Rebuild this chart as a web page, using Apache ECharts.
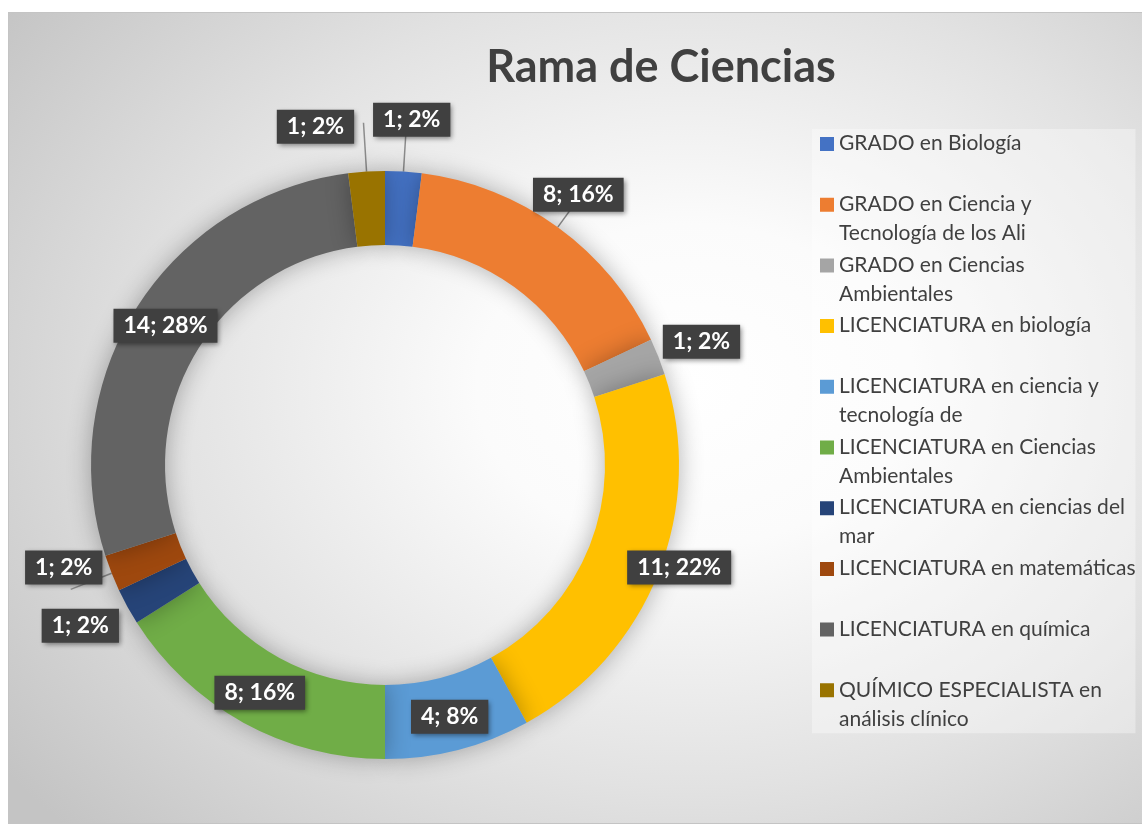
<!DOCTYPE html>
<html>
<head>
<meta charset="utf-8">
<script src="https://cdn.jsdelivr.net/npm/echarts@6/dist/echarts.min.js"></script>
<style>
    html, body { margin: 0; padding: 0; background: #ffffff; }
    #pieChart {
        position: absolute;
        left: 8px;
        top: 12px;
        width: 1134px;
        height: 810px;
        border: 1px solid #c4c4c4;
        background: radial-gradient(ellipse 75% 80% at 60% 46%, #ffffff 0%, #fbfbfb 25%, #e2e2e2 62%, #c4c4c4 100%);
    }
</style>
</head>
<body>
<div id="pieChart"></div>
<script>
// data
const categories = [
    'GRADO en Biología',
    'GRADO en Ciencia y Tecnología de los Ali',
    'GRADO en Ciencias Ambientales',
    'LICENCIATURA en biología',
    'LICENCIATURA en ciencia y tecnología de',
    'LICENCIATURA en Ciencias Ambientales',
    'LICENCIATURA en ciencias del mar',
    'LICENCIATURA en matemáticas',
    'LICENCIATURA en química',
    'QUÍMICO ESPECIALISTA en análisis clínico'
];
const values = [1, 8, 1, 11, 4, 8, 1, 1, 14, 1];
const colors = ['#4472C4', '#ED7D31', '#A5A5A5', '#FFC000', '#5B9BD5',
                '#70AD47', '#264478', '#9E480E', '#636363', '#997300'];
// legend text as wrapped in the original
const legendLines = [
    'GRADO en Biología\n',
    'GRADO en Ciencia y\nTecnología de los Ali',
    'GRADO en Ciencias\nAmbientales',
    'LICENCIATURA en biología\n',
    'LICENCIATURA en ciencia y\ntecnología de',
    'LICENCIATURA en Ciencias\nAmbientales',
    'LICENCIATURA en ciencias del\nmar',
    'LICENCIATURA en matemáticas\n',
    'LICENCIATURA en química\n',
    'QUÍMICO ESPECIALISTA en\nanálisis clínico'
];

if (typeof echarts !== 'undefined') {
    const pieDom = document.getElementById('pieChart');
    const pieChart = echarts.init(pieDom);

    // how each data label sits: inside the ring, or outside with a leader
    const labelMode = {
        0: { len: 52, line: true },
        1: { len: 40, line: true },
        2: { len: 41, line: false },
        3: { len: 17, line: false },
        6: { len: 48, line: false },
        7: { len: 44, line: true },
        9: { len: 49, line: true }
    };
    // small nudges where the original moved labels apart
    const labelNudge = {
        1: [-8, 0],
        3: [0, -12],
        6: [0, -4],
        7: [-2, -22],
        9: [-43, 4]
    };

    const pieData = categories.map((name, i) => {
        const item = { name: name, value: values[i], itemStyle: { color: colors[i] } };
        const m = labelMode[i];
        if (m) {
            item.label = { position: 'outside' };
            item.labelLine = { show: m.line, length: m.len, length2: 0 };
        } else {
            item.label = { position: 'inside' };
            item.labelLine = { show: false };
        }
        return item;
    });

    const legendIcon = 'path://M0,8h14v14h-14z M0,0h0.01v0.01h-0.01z M0,58h0.01v0.01h-0.01z';

    const pieOption = {
        textStyle: { fontFamily: 'Lato' },
        title: {
            text: 'Rama de Ciencias',
            left: 647,
            top: 27,
            textAlign: 'center',
            textStyle: { fontFamily: 'Lato', fontWeight: 'bold', fontSize: 45, color: '#404040' }
        },
        legend: {
            orient: 'vertical',
            left: 803,
            top: 116,
            padding: [0, 0, 0, 8],
            backgroundColor: 'rgba(255,255,255,0.35)',
            icon: legendIcon,
            itemWidth: 14,
            itemHeight: 58,
            itemGap: 2.7,
            selectedMode: false,
            formatter: (name) => legendLines[categories.indexOf(name)],
            textStyle: { fontFamily: 'Lato', fontSize: 21, lineHeight: 29, color: '#404040' }
        },
        series: [
            {
                name: 'Rama de Ciencias',
                type: 'pie',
                center: [376, 452],
                radius: [220, 294],
                startAngle: 90,
                clockwise: true,
                avoidLabelOverlap: false,
                itemStyle: {
                    shadowBlur: 24,
                    shadowColor: 'rgba(0,0,0,0.3)'
                },
                label: {
                    formatter: (p) => p.value + '; ' + Math.round(p.percent) + '%',
                    fontFamily: 'Lato',
                    fontWeight: 'bold',
                    fontSize: 23,
                    color: '#ffffff',
                    backgroundColor: '#404040',
                    padding: [6, 10, 5, 10],
                    shadowBlur: 5,
                    shadowOffsetX: 2,
                    shadowOffsetY: 2,
                    shadowColor: 'rgba(0,0,0,0.45)'
                },
                labelLine: {
                    lineStyle: { color: '#8c8c8c', width: 1.5 }
                },
                labelLayout: (params) => {
                    const out = { align: 'center', verticalAlign: 'middle' };
                    const n = labelNudge[params.dataIndex];
                    if (n) {
                        out.dx = n[0];
                        out.dy = n[1];
                    }
                    return out;
                },
                emphasis: { disabled: true },
                data: pieData
            }
        ]
    };
    pieChart.setOption(pieOption);

    window.addEventListener('resize', () => {
        pieChart.resize();
    });
} else {
    console.error('ECharts library not loaded.');
}
</script>
</body>
</html>
